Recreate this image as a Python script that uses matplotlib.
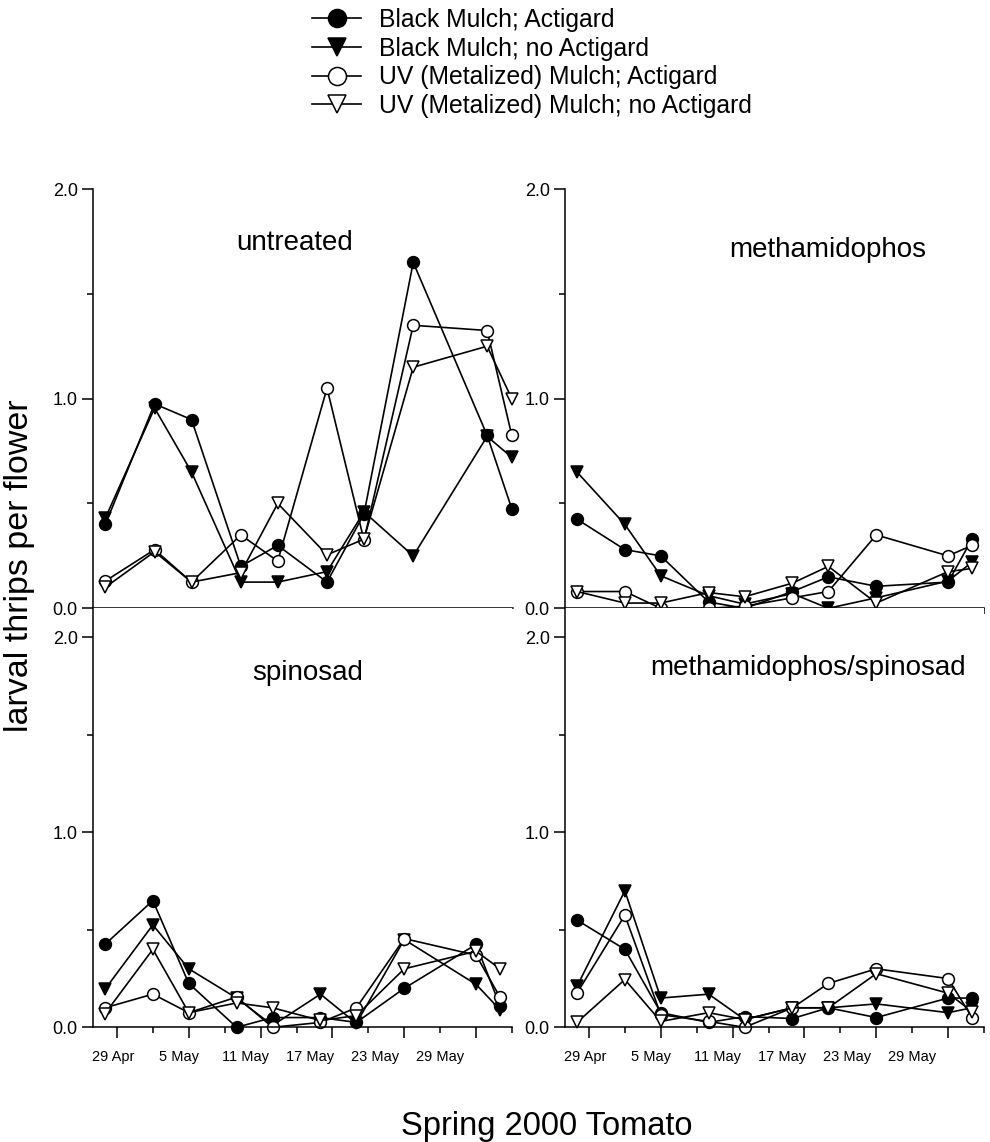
import matplotlib
matplotlib.use("Agg")
import matplotlib.pyplot as plt
from matplotlib.lines import Line2D
from matplotlib.ticker import FixedLocator

plt.rcParams['font.family'] = ['Liberation Sans', 'DejaVu Sans']

# sampling days, counted from 29 Apr (day 0)
days = [-1, 3, 6, 10, 13, 17, 20, 24, 30, 32]

series_names = ["Black Mulch; Actigard", "Black Mulch; no Actigard",
                "UV (Metalized) Mulch; Actigard", "UV (Metalized) Mulch; no Actigard"]

panel_titles = ["untreated", "methamidophos", "spinosad", "methamidophos/spinosad"]

# untreated
ba_untr = [0.40, 0.975, 0.90, 0.20, 0.30, 0.125, 0.45, 1.65, 0.825, 0.475]
bn_untr = [0.43, 0.955, 0.65, 0.125, 0.125, 0.175, 0.46, 0.25, 0.82, 0.72]
ua_untr = [0.13, 0.28, 0.125, 0.35, 0.225, 1.05, 0.325, 1.35, 1.325, 0.825]
un_untr = [0.10, 0.27, 0.125, 0.17, 0.50, 0.255, 0.33, 1.15, 1.25, 1.00]

# methamidophos
ba_meth = [0.425, 0.28, 0.25, 0.03, 0.0, 0.08, 0.15, 0.105, 0.125, 0.33]
bn_meth = [0.65, 0.40, 0.155, 0.06, 0.02, 0.07, 0.0, 0.05, 0.13, 0.22]
ua_meth = [0.08, 0.08, 0.0, 0.0, 0.01, 0.05, 0.08, 0.35, 0.25, 0.30]
un_meth = [0.08, 0.025, 0.025, 0.075, 0.055, 0.12, 0.20, 0.025, 0.175, 0.19]

# spinosad
ba_spin = [0.425, 0.65, 0.225, 0.0, 0.05, 0.05, 0.025, 0.20, 0.425, 0.11]
bn_spin = [0.195, 0.525, 0.30, 0.15, 0.01, 0.17, 0.02, 0.45, 0.22, 0.09]
ua_spin = [0.10, 0.17, 0.075, 0.155, 0.0, 0.025, 0.10, 0.455, 0.37, 0.155]
un_spin = [0.07, 0.40, 0.075, 0.125, 0.10, 0.035, 0.06, 0.30, 0.39, 0.30]

# methamidophos/spinosad
ba_ms = [0.55, 0.40, 0.075, 0.025, 0.055, 0.045, 0.10, 0.05, 0.15, 0.15]
bn_ms = [0.21, 0.70, 0.15, 0.17, 0.04, 0.10, 0.10, 0.12, 0.075, 0.10]
ua_ms = [0.175, 0.575, 0.065, 0.03, 0.0, 0.10, 0.225, 0.30, 0.25, 0.05]
un_ms = [0.025, 0.245, 0.03, 0.075, 0.04, 0.10, 0.10, 0.275, 0.175, 0.08]

panel_data = [
    [ba_untr, bn_untr, ua_untr, un_untr],
    [ba_meth, bn_meth, ua_meth, un_meth],
    [ba_spin, bn_spin, ua_spin, un_spin],
    [ba_ms, bn_ms, ua_ms, un_ms],
]

date_labels = ["29 Apr", "5 May", "11 May", "17 May", "23 May", "29 May"]
date_label_days = [-0.3, 5.2, 10.7, 16.1, 21.6, 27.0]

y_major = [0.0, 1.0, 2.0]
y_minor = [0.5, 1.5]
x_major = [0, 6, 12, 18, 24, 30]
x_minor = [3, 9, 15, 21, 27, 33]

styles = [
    dict(marker='o', mfc='black', mec='black'),
    dict(marker='v', mfc='black', mec='black'),
    dict(marker='o', mfc='white', mec='black'),
    dict(marker='v', mfc='white', mec='black'),
]

W, H = 990, 1142
fig = plt.figure(figsize=(W / 100, H / 100), dpi=100)

def ax_rect(x0, x1, y0, y1):
    return [x0 / W, 1 - y1 / H, (x1 - x0) / W, (y1 - y0) / H]

rects = [
    ax_rect(93, 513, 189, 608.3),
    ax_rect(565, 984, 189, 608.3),
    ax_rect(93, 512, 608.3, 1027.3),
    ax_rect(565, 984, 608.3, 1027.3),
]
ylims = [(0, 2.0), (0, 2.0), (0, 2.149), (0, 2.149)]
xlims = [(-2, 32.1), (-2, 33), (-2, 33), (-2, 33)]
title_pos = [(0.481, 0.871), (0.628, 0.855), (0.512, 0.846), (0.58, 0.858)]

for i in range(4):
    ax = fig.add_axes(rects[i])
    for vals, st in zip(panel_data[i], styles):
        ax.plot(days, vals, color='black', lw=1.2, ms=8.5, mew=1.1, clip_on=False, **st)
    ax.set_xlim(*xlims[i])
    ax.set_ylim(*ylims[i])
    for s in ['top', 'right']:
        ax.spines[s].set_visible(False)
    for s in ['left', 'bottom']:
        ax.spines[s].set_linewidth(1.1)
    ax.set_yticks(y_major)
    ax.set_yticklabels([f"{v:.1f}" for v in y_major])
    ax.yaxis.set_minor_locator(FixedLocator(y_minor))
    ax.set_xticks(x_major)
    ax.set_xticklabels([])
    ax.xaxis.set_minor_locator(FixedLocator(x_minor))
    ax.tick_params(axis='y', which='major', length=8, width=1.1, labelsize=13, pad=3)
    ax.tick_params(axis='y', which='minor', length=4, width=1.1)
    ax.tick_params(axis='x', which='major', length=8, width=1.1)
    ax.tick_params(axis='x', which='minor', length=4.5, width=1.1)
    ax.text(title_pos[i][0], title_pos[i][1], panel_titles[i], transform=ax.transAxes,
            ha='center', va='center', fontsize=20)
    if i >= 2:
        sec = ax.secondary_xaxis('bottom')
        sec.set_xticks(date_label_days)
        sec.set_xticklabels(date_labels)
        sec.tick_params(length=0, pad=16, labelsize=10.5)
        sec.spines['bottom'].set_visible(False)

handles = [Line2D([], [], color='black', lw=1.2, ms=13, mew=1.1, **st) for st in styles]
fig.legend(handles, series_names, loc='upper left', bbox_to_anchor=(312 / W, 1 - 8 / H),
           frameon=False, borderpad=0, handlelength=2.0, handletextpad=0.7,
           labelspacing=0.19, fontsize=17.8, borderaxespad=0)

fig.text(20 / W, 1 - 566 / H, "larval thrips per flower", rotation=90,
         ha='center', va='center', fontsize=24.5)
fig.text(547 / W, 1 - 1127 / H, "Spring 2000 Tomato", ha='center', va='center', fontsize=23.5)

fig.savefig("out.png", dpi=100, facecolor='white')
